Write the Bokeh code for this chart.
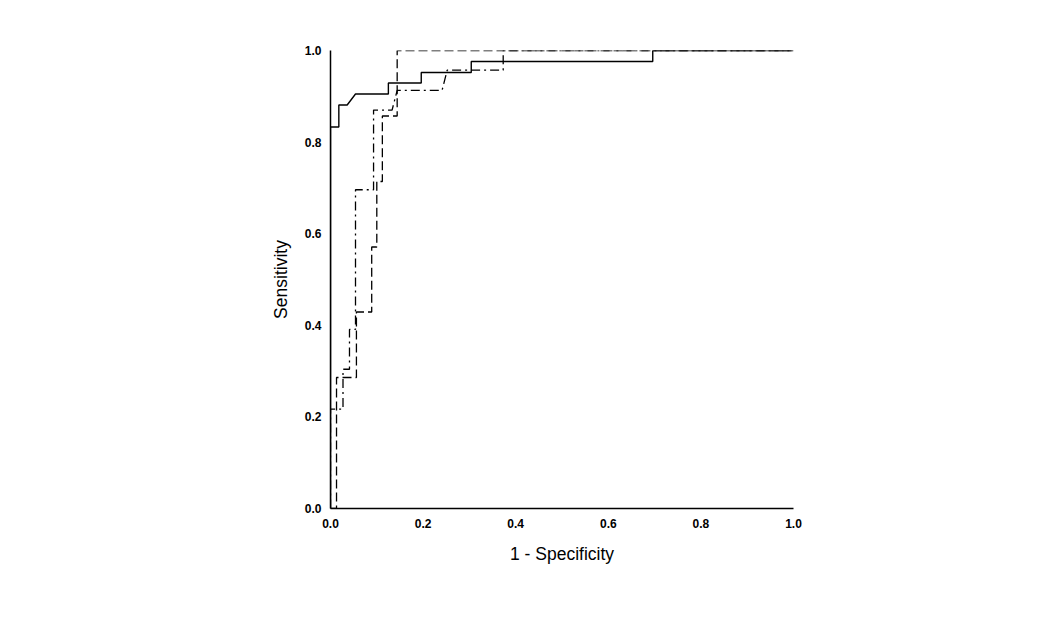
from bokeh.plotting import figure
from bokeh.models import Range1d, FixedTicker
from bokeh.embed import file_html
from bokeh.resources import INLINE

# ROC curves (1 - specificity, sensitivity), step vertices
solid_fpr = [0.0, 0.0, 0.018, 0.018, 0.036, 0.054, 0.125, 0.125, 0.196, 0.196, 0.304, 0.304, 0.696, 0.696, 1.0]
solid_tpr = [0.0, 0.833, 0.833, 0.881, 0.881, 0.905, 0.905, 0.929, 0.929, 0.952, 0.952, 0.976, 0.976, 1.0, 1.0]

dashed_fpr = [0.0, 0.013, 0.013, 0.056, 0.056, 0.089, 0.089, 0.100, 0.100, 0.112, 0.112, 0.144, 0.144, 1.0]
dashed_tpr = [0.0, 0.0, 0.286, 0.286, 0.429, 0.429, 0.571, 0.571, 0.714, 0.714, 0.857, 0.857, 1.0, 1.0]

dashdot_fpr = [0.0, 0.0, 0.027, 0.027, 0.041, 0.041, 0.054, 0.054, 0.093, 0.093, 0.133, 0.144, 0.241, 0.252, 0.373, 0.373, 1.0]
dashdot_tpr = [0.0, 0.217, 0.217, 0.304, 0.304, 0.391, 0.391, 0.696, 0.696, 0.870, 0.870, 0.913, 0.913, 0.957, 0.957, 1.0, 1.0]

ticks = [0.0, 0.2, 0.4, 0.6, 0.8, 1.0]
tick_labels = {0.0: "0.0", 0.2: "0.2", 0.4: "0.4", 0.6: "0.6", 0.8: "0.8", 1.0: "1.0"}

p = figure(width=1034, height=600, output_backend="svg", toolbar_location=None,
           x_range=Range1d(0, 1), y_range=Range1d(0, 1),
           min_border_left=330, min_border_right=241, min_border_top=50, min_border_bottom=92)
p.outline_line_color = None
p.xgrid.grid_line_color = None
p.ygrid.grid_line_color = None
p.background_fill_color = "white"
p.border_fill_color = "white"

p.line(dashdot_fpr, dashdot_tpr, line_color="black", line_width=1.3, line_dash="9 4 2 4")
p.line(dashed_fpr, dashed_tpr, line_color="black", line_width=1.3, line_dash="9 4")
p.line(solid_fpr, solid_tpr, line_color="black", line_width=1.4)

for ax in (p.xaxis[0], p.yaxis[0]):
    ax.ticker = FixedTicker(ticks=ticks)
    ax.major_label_overrides = tick_labels
    ax.major_tick_line_color = None
    ax.minor_tick_line_color = None
    ax.axis_line_color = "black"
    ax.axis_line_width = 1.5
    ax.major_label_text_font = "Liberation Sans"
    ax.major_label_text_font_style = "bold"
    ax.major_label_text_font_size = "12px"
    ax.major_label_text_color = "black"
    ax.axis_label_text_font = "Liberation Sans"
    ax.axis_label_text_font_style = "normal"
    ax.axis_label_text_font_size = "17.5px"
    ax.axis_label_text_color = "black"

p.xaxis[0].axis_label = "1 - Specificity"
p.yaxis[0].axis_label = "Sensitivity"
p.xaxis[0].major_label_standoff = 4
p.xaxis[0].axis_label_standoff = 13
p.yaxis[0].major_label_standoff = 3
p.yaxis[0].axis_label_standoff = 11

open("out.html", "w").write(file_html(p, INLINE))
